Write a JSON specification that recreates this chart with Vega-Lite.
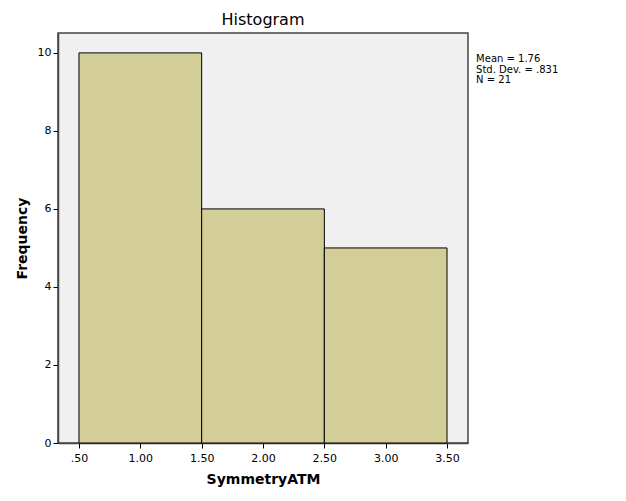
{
  "$schema": "https://vega.github.io/schema/vega-lite/v6.json",
  "autosize": {"type": "none"},
  "width": 410,
  "height": 410,
  "padding": {"left": 58, "top": 33, "right": 158, "bottom": 58},
  "background": "white",
  "config": {
    "font": "DejaVu Sans",
    "view": {"fill": "#F0F0F0", "stroke": "#444444", "strokeWidth": 1.5}
  },
  "title": {
    "text": "Histogram",
    "fontSize": 16,
    "fontWeight": 500,
    "font": "DejaVu Sans",
    "color": "#000000",
    "anchor": "middle",
    "offset": 5
  },
  "layer": [
    {
      "data": {
        "values": [
          {"bin_start": 0.5, "bin_end": 1.5, "count": 10},
          {"bin_start": 1.5, "bin_end": 2.5, "count": 6},
          {"bin_start": 2.5, "bin_end": 3.5, "count": 5}
        ]
      },
      "mark": {"type": "rect", "fill": "#D3CE97", "stroke": "#000000", "strokeWidth": 1},
      "encoding": {
        "x": {
          "field": "bin_start",
          "type": "quantitative",
          "scale": {"domain": [0.329, 3.671], "nice": false, "zero": false},
          "axis": {
            "title": "SymmetryATM",
            "values": [0.5, 1, 1.5, 2, 2.5, 3, 3.5],
            "labelExpr": "datum.value < 1 ? substring(format(datum.value, '.2f'), 1) : format(datum.value, '.2f')",
            "grid": false,
            "domainColor": "#444444",
            "domainWidth": 1.5,
            "tickColor": "#000000",
            "tickSize": 5,
            "labelFontSize": 11,
            "labelColor": "#000000",
            "labelPadding": 4,
            "titleFontSize": 14,
            "titleFontWeight": "bold",
            "titleColor": "#000000",
            "titlePadding": 9
          }
        },
        "x2": {"field": "bin_end"},
        "y": {
          "field": "count",
          "type": "quantitative",
          "scale": {"domain": [0, 10.51], "nice": false},
          "axis": {
            "title": "Frequency",
            "values": [0, 2, 4, 6, 8, 10],
            "grid": false,
            "domainColor": "#444444",
            "domainWidth": 1.5,
            "tickColor": "#000000",
            "tickSize": 5,
            "labelFontSize": 11,
            "labelColor": "#000000",
            "labelPadding": 2,
            "titleFontSize": 14,
            "titleFontWeight": "bold",
            "titleColor": "#000000",
            "titlePadding": 8
          }
        },
        "y2": {"datum": 0}
      }
    },
    {
      "data": {"values": [{"stats": "Mean = 1.76|Std. Dev. = .831|N = 21"}]},
      "mark": {
        "type": "text",
        "lineBreak": "|",
        "align": "left",
        "baseline": "top",
        "fontSize": 10,
        "fontWeight": "normal",
        "lineHeight": 10.5,
        "color": "#000000",
        "clip": false
      },
      "encoding": {
        "text": {"field": "stats", "type": "nominal"},
        "x": {"datum": 3.737, "type": "quantitative"},
        "y": {"datum": 9.97, "type": "quantitative"}
      }
    }
  ]
}
